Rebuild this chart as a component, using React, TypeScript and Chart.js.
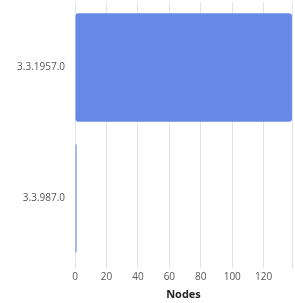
import React, { useEffect, useRef } from "react";
import { Chart, registerables } from "chart.js";

Chart.register(...registerables);

const categories = ["3.3.1957.0", "3.3.987.0"];
const nodeCounts = [138, 1];
const xTickStep = 20;
const xMax = 138;
const axisTitle = "Nodes";

export default function App() {
  const ref = useRef<HTMLCanvasElement | null>(null);
  useEffect(() => {
    if (!ref.current) return;
    const chart = new Chart(ref.current, {
      type: "bar",
      data: {
        labels: categories,
        datasets: [
          {
            data: nodeCounts,
            backgroundColor: "#6689e5",
            borderRadius: 3,
            borderSkipped: false,
            categoryPercentage: 0.9,
            barPercentage: 0.92,
          },
        ],
      },
      options: {
        indexAxis: "y",
        animation: false,
        responsive: true,
        maintainAspectRatio: false,
        layout: { padding: { top: 2, right: 2, left: 0, bottom: 2 } },
        plugins: { legend: { display: false }, tooltip: { enabled: false } },
        scales: {
          x: {
            min: 0,
            max: xMax,
            ticks: {
              stepSize: xTickStep,
              color: "#555",
              font: { family: "Open Sans", size: 10 },
              padding: 3,
              maxRotation: 0,
              callback: (v: any) => (Number(v) % xTickStep === 0 ? String(v) : ""),
            },
            grid: { color: "#e3e3e3", tickLength: 4, drawTicks: true },
            border: { display: false },
            title: {
              display: true,
              text: axisTitle,
              color: "#222",
              font: { family: "Open Sans", size: 11, weight: "bold" },
              padding: { top: 2, bottom: 0 },
            },
          },
          y: {
            grid: { display: false, drawTicks: false },
            border: { display: false },
            ticks: {
              color: "#555",
              font: { family: "Open Sans", size: 10 },
              padding: 10,
            },
            afterFit: (scale: any) => {
              scale.width = 75;
              scale.paddingTop = 0;
              scale.paddingBottom = 0;
            },
          },
        },
      },
    });
    return () => chart.destroy();
  }, []);
  return (
    <div style={{ position: "fixed", left: 0, top: 0, width: 295, height: 303 }}>
      <canvas ref={ref} />
    </div>
  );
}
